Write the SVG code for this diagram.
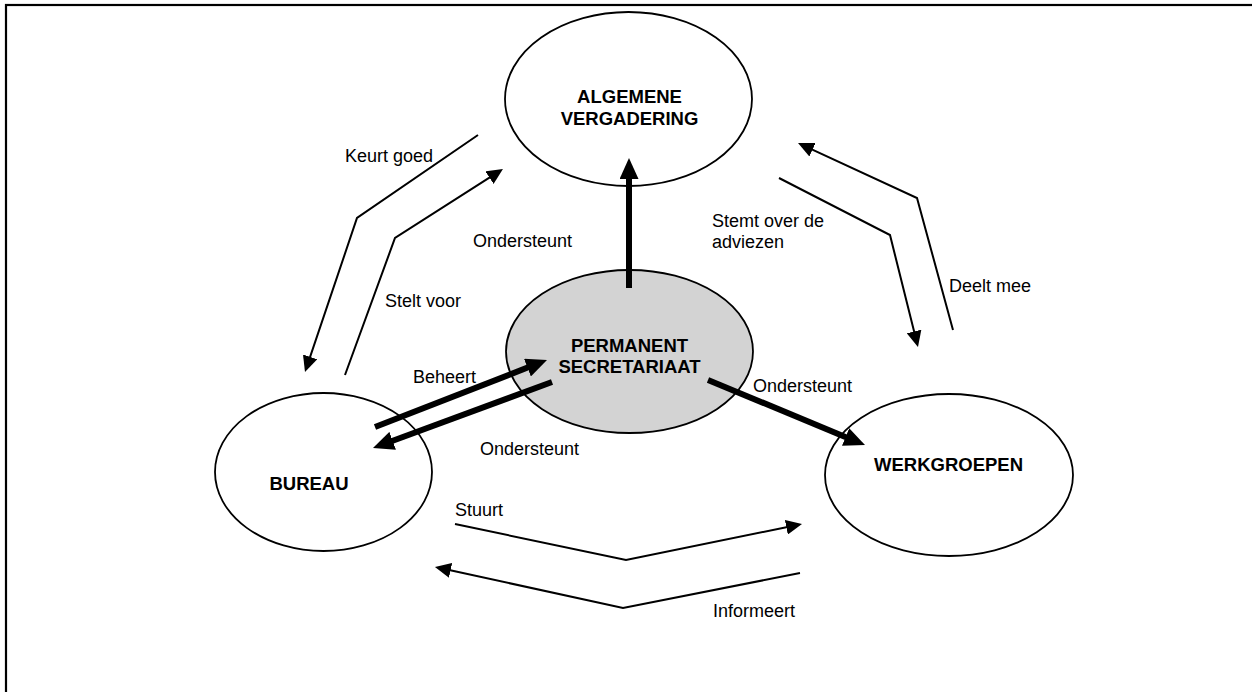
<svg xmlns="http://www.w3.org/2000/svg" width="1252" height="692" viewBox="0 0 1252 692">
<style>
.node{fill:#fff;stroke:#000;stroke-width:1.8}
.gray{fill:#d3d3d3}
.lbl{font-family:"Liberation Sans",Arial,sans-serif;font-size:18px;fill:#000}
.ttl{font-family:"Liberation Sans",Arial,sans-serif;font-size:18.5px;font-weight:bold;fill:#000;text-anchor:middle}
.thin{fill:none;stroke:#000;stroke-width:2;marker-end:url(#ah)}
.thick{fill:none;stroke:#000;stroke-width:6;marker-end:url(#ahb)}
</style>
<defs>
<marker id="ah" markerUnits="userSpaceOnUse" viewBox="0 0 16 15" refX="5" refY="7.5" markerWidth="16" markerHeight="15" orient="auto">
<path d="M0,0 L16,7.5 L0,15 z" fill="#000"/>
</marker>
<marker id="ahb" markerUnits="userSpaceOnUse" viewBox="0 0 21 19" refX="5" refY="9.5" markerWidth="21" markerHeight="19" orient="auto">
<path d="M0,0 L21,9.5 L0,19 z" fill="#000"/>
</marker>
</defs>
<rect x="6" y="5" width="1300" height="700" fill="#fff" stroke="#000" stroke-width="2.2"/>
<g id="algemene-vergadering">
<ellipse class="node" cx="628.5" cy="99" rx="123.5" ry="87"/>
<text class="ttl" x="629.5" y="103">ALGEMENE</text>
<text class="ttl" x="629.5" y="125">VERGADERING</text>
</g>
<g id="permanent-secretariaat">
<ellipse class="node gray" cx="629.5" cy="351.5" rx="123.5" ry="81.5"/>
<text class="ttl" x="629.5" y="352">PERMANENT</text>
<text class="ttl" x="629.5" y="373">SECRETARIAAT</text>
</g>
<g id="bureau">
<ellipse class="node" cx="323.5" cy="472" rx="108.5" ry="79"/>
<text class="ttl" x="309" y="490">BUREAU</text>
</g>
<g id="werkgroepen">
<ellipse class="node" cx="949" cy="475" rx="124" ry="81"/>
<text class="ttl" x="948.5" y="471">WERKGROEPEN</text>
</g>
<g id="connectors">
<polyline class="thin" points="478,135 357,218 308.5,361.6"/>
<polyline class="thin" points="345,375 395,238 493.7,174.9"/>
<polyline class="thin" points="953,330 917,198 808,147.6"/>
<polyline class="thin" points="779,178 890,235 915.3,336.3"/>
<polyline class="thin" points="455,524 626,560 791.2,526.2"/>
<polyline class="thin" points="800,573 623,608 445.7,569.3"/>
<line class="thick" x1="629" y1="288" x2="629" y2="174"/>
<line class="thick" x1="375" y1="427" x2="532.1" y2="365.8"/>
<line class="thick" x1="552" y1="382" x2="388" y2="442.5"/>
<line class="thick" x1="708" y1="380" x2="850.2" y2="438.9"/>
</g>
<g id="labels">
<text class="lbl" x="345" y="162">Keurt goed</text>
<text class="lbl" x="385" y="307">Stelt voor</text>
<text class="lbl" x="473" y="247">Ondersteunt</text>
<text class="lbl" x="712" y="227">Stemt over de</text>
<text class="lbl" x="712" y="248">adviezen</text>
<text class="lbl" x="949" y="292">Deelt mee</text>
<text class="lbl" x="413" y="383">Beheert</text>
<text class="lbl" x="753" y="392">Ondersteunt</text>
<text class="lbl" x="480" y="455">Ondersteunt</text>
<text class="lbl" x="455" y="516">Stuurt</text>
<text class="lbl" x="713" y="617">Informeert</text>
</g>
</svg>
